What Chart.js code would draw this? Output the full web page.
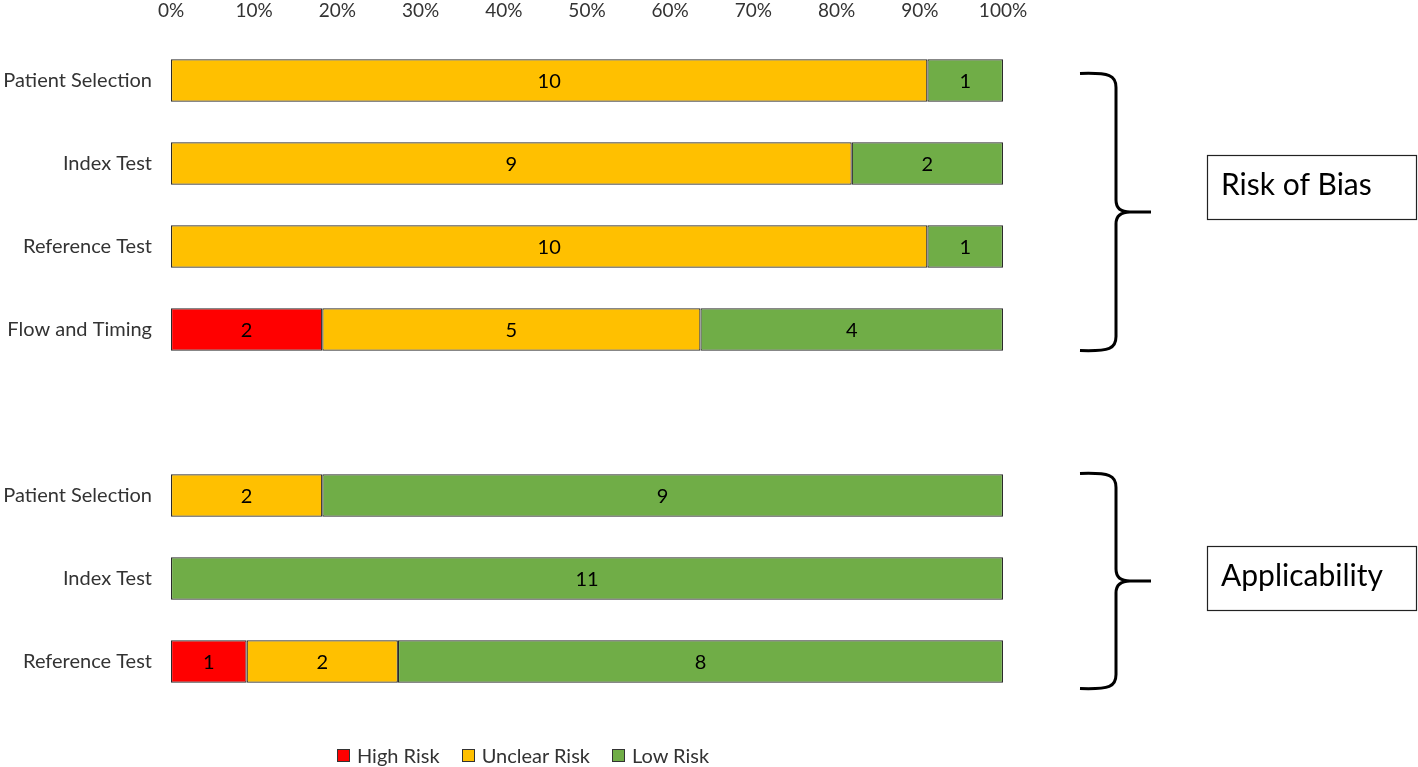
<!DOCTYPE html>
<html>
<head>
<meta charset="utf-8">
<script src="https://cdn.jsdelivr.net/npm/chart.js@4.4.0/dist/chart.umd.min.js"></script>
<style>
  html, body { margin: 0; padding: 0; background: #fff; }
  #wrap { position: relative; width: 1418px; height: 767px; }
  #legend { position: absolute; left: 337px; top: 743px; display: flex; font: 20px Lato, sans-serif; color: #333; }
  #legend span.item { display: flex; align-items: center; margin-right: 22px; }
  #legend i { display: inline-block; width: 11px; height: 11px; border: 1px solid #333; margin-right: 7px; }
</style>
</head>
<body>
<div id="wrap">
  <canvas id="risk-chart" width="1418" height="767"></canvas>
  <div id="legend"></div>
</div>
<script>
// domains (blank row separates the two groups)
const categories = ['Patient Selection', 'Index Test', 'Reference Test', 'Flow and Timing', '',
                    'Patient Selection', 'Index Test', 'Reference Test'];
// number of studies per judgement
const highRisk    = [0, 0, 0, 2, null, 0, 0, 1];
const unclearRisk = [10, 9, 10, 5, null, 2, 0, 2];
const lowRisk     = [1, 2, 1, 4, null, 9, 11, 8];
const seriesNames = ['High Risk', 'Unclear Risk', 'Low Risk'];
const seriesColors = ['#FF0000', '#FFC000', '#70AD47'];
const tickValues = [0, 10, 20, 30, 40, 50, 60, 70, 80, 90, 100];
const groupNames = ['Risk of Bias', 'Applicability'];

const ctx = document.getElementById('risk-chart');
const FONT = 'Lato';

// turn counts into share of row (100% stacked)
function toPercent(counts) {
    return counts.map((c, i) => {
        const total = (highRisk[i] || 0) + (unclearRisk[i] || 0) + (lowRisk[i] || 0);
        if (!c || !total) return null;
        return c / total * 100;
    });
}

// numbers in the middle of each segment
const countLabels = {
    id: 'countLabels',
    afterDatasetsDraw(chart) {
        const c = chart.ctx;
        c.save();
        c.font = '20px ' + FONT;
        c.fillStyle = '#000';
        c.textAlign = 'center';
        c.textBaseline = 'middle';
        chart.data.datasets.forEach((ds, i) => {
            chart.getDatasetMeta(i).data.forEach((bar, j) => {
                const n = ds.counts[j];
                if (!n) return;
                const p = bar.getProps(['x', 'y', 'base'], true);
                c.fillText(String(n), (p.x + p.base) / 2, p.y + 1);
            });
        });
        c.restore();
    }
};

// curly braces + group boxes on the right
const groupBraces = {
    id: 'groupBraces',
    afterDraw(chart) {
        const c = chart.ctx;
        const y = chart.scales.y;
        const groups = [
            { top: y.getPixelForValue(0) - 7, bot: y.getPixelForValue(3) + 21, boxY: 155, label: groupNames[0] },
            { top: y.getPixelForValue(5) - 22, bot: y.getPixelForValue(7) + 27, boxY: 546, label: groupNames[1] }
        ];
        const x0 = 1080, xv = 1116, xTip = 1151;
        c.save();
        groups.forEach(g => {
            const mid = (g.top + g.bot) / 2;
            c.strokeStyle = '#000';
            c.lineWidth = 3;
            c.beginPath();
            c.moveTo(x0, g.top);
            c.bezierCurveTo(xv - 6, g.top - 1, xv, g.top + 2, xv, g.top + 14);
            c.lineTo(xv, mid - 12);
            c.quadraticCurveTo(xv, mid, xv + 14, mid);
            c.lineTo(xTip, mid);
            c.moveTo(xv + 14, mid);
            c.quadraticCurveTo(xv, mid, xv, mid + 12);
            c.lineTo(xv, g.bot - 14);
            c.bezierCurveTo(xv, g.bot - 2, xv - 6, g.bot + 1, x0, g.bot);
            c.stroke();

            c.lineWidth = 1.2;
            c.strokeStyle = '#222';
            c.strokeRect(1207.5, g.boxY + 0.5, 209, 64);
            c.fillStyle = '#000';
            c.font = '30px ' + FONT;
            c.textAlign = 'left';
            c.textBaseline = 'middle';
            c.fillText(g.label, 1221, g.boxY + 30);
        });
        c.restore();
    }
};

const series = [highRisk, unclearRisk, lowRisk];

new Chart(ctx, {
    type: 'bar',
    data: {
        labels: categories,
        datasets: series.map((s, i) => ({
            label: seriesNames[i],
            data: toPercent(s),
            counts: s,
            backgroundColor: seriesColors[i],
            borderColor: '#2b2b2b',
            borderWidth: 1.2,
            borderSkipped: false,
            categoryPercentage: 1,
            barPercentage: 0.51
        }))
    },
    options: {
        indexAxis: 'y',
        responsive: false,
        animation: false,
        devicePixelRatio: 1,
        layout: { padding: { left: 0, right: 415, top: 0, bottom: 64 } },
        plugins: {
            legend: { display: false },
            tooltip: { enabled: false }
        },
        scales: {
            x: {
                position: 'top',
                stacked: true,
                min: 0,
                max: 100,
                afterBuildTicks: s => { s.ticks = tickValues.map(v => ({ value: v })); },
                afterFit: s => { s.height = 39; },
                grid: { display: false, drawTicks: false },
                border: { display: false },
                ticks: {
                    callback: v => v + '%',
                    font: { family: FONT, size: 19 },
                    color: '#333',
                    padding: 17
                }
            },
            y: {
                stacked: true,
                afterFit: s => { s.width = 171; },
                grid: { display: false, drawTicks: false },
                border: { display: false },
                ticks: {
                    font: { family: FONT, size: 20 },
                    color: '#333',
                    padding: 19
                }
            }
        }
    },
    plugins: [countLabels, groupBraces]
});

// legend
const legend = document.getElementById('legend');
seriesNames.forEach((name, i) => {
    const item = document.createElement('span');
    item.className = 'item';
    item.innerHTML = '<i style="background:' + seriesColors[i] + '"></i>' + name;
    legend.appendChild(item);
});
</script>
</body>
</html>
